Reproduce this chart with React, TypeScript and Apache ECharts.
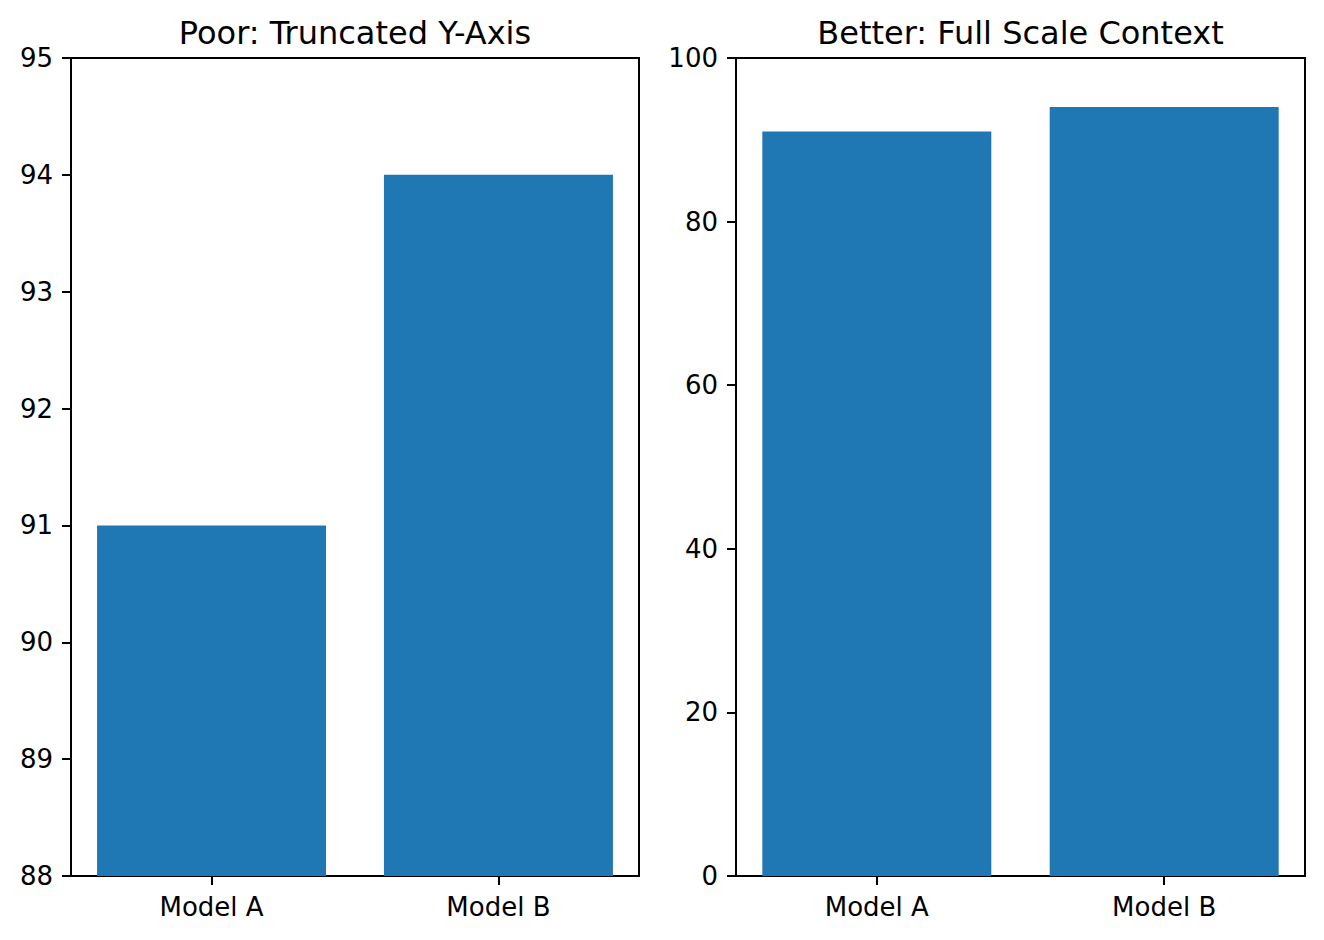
import React, { useEffect, useRef } from "react";
import * as echarts from "echarts";

const categories = ["Model A", "Model B"];
const accuracy = [91, 94];
const leftTitle = "Poor: Truncated Y-Axis";
const rightTitle = "Better: Full Scale Context";
const leftRange = [88, 95];
const leftStep = 1;
const rightRange = [0, 100];
const rightStep = 20;
const categoryPositions = [0, 1];

const FONT = "DejaVu Sans";
const BAR = "#1f77b4";

export default function App() {
  const ref = useRef<HTMLDivElement>(null);
  useEffect(() => {
    if (!ref.current) return;
    const chart = echarts.init(ref.current, null, { renderer: "svg" });
    const grids = [
      { left: 71, top: 58, width: 568, height: 818 },
      { left: 736, top: 58, width: 569, height: 818 },
    ].map((g) => ({
      ...g,
      show: true,
      borderColor: "#000",
      borderWidth: 2,
      backgroundColor: "transparent",
      containLabel: false,
    }));
    const xAxis = [0, 1].map((gi) => ({
      type: "value",
      gridIndex: gi,
      min: -0.49,
      max: 1.49,
      splitLine: { show: false },
      axisLine: { show: true, onZero: false, lineStyle: { color: "#000", width: 2 } },
      axisTick: {
        show: true,
        length: 9,
        customValues: categoryPositions,
        lineStyle: { color: "#000", width: 2 },
      },
      axisLabel: {
        customValues: categoryPositions,
        formatter: (v: number) => categories[Math.round(v)] ?? "",
        fontSize: 26,
        color: "#000",
        fontFamily: FONT,
        margin: 18,
      },
    }));
    const ranges = [
      [leftRange, leftStep],
      [rightRange, rightStep],
    ] as const;
    const yAxis = ranges.map(([r, step], gi) => ({
      type: "value",
      gridIndex: gi,
      min: r[0],
      max: r[1],
      interval: step,
      splitLine: { show: false },
      axisLine: { show: true, onZero: false, lineStyle: { color: "#000", width: 2 } },
      axisTick: { show: true, length: 9, lineStyle: { color: "#000", width: 2 } },
      axisLabel: { fontSize: 26, color: "#000", fontFamily: FONT, margin: 18 },
    }));
    const series = [0, 1].map((gi) => ({
      type: "bar",
      xAxisIndex: gi,
      yAxisIndex: gi,
      barWidth: 229,
      data: accuracy.map((v, i) => [categoryPositions[i], v]),
      itemStyle: { color: BAR },
      clip: true,
    }));
    chart.setOption({
      animation: false,
      backgroundColor: "#fff",
      grid: grids,
      xAxis,
      yAxis,
      series,
      graphic: [
        {
          type: "text",
          x: 355,
          y: 33,
          style: {
            text: leftTitle,
            fontSize: 32,
            fontFamily: FONT,
            fill: "#000",
            textAlign: "center",
            textVerticalAlign: "middle",
          },
        },
        {
          type: "text",
          x: 1020.5,
          y: 33,
          style: {
            text: rightTitle,
            fontSize: 32,
            fontFamily: FONT,
            fill: "#000",
            textAlign: "center",
            textVerticalAlign: "middle",
          },
        },
      ],
    } as any);
    return () => chart.dispose();
  }, []);
  return (
    <div
      ref={ref}
      style={{ position: "fixed", left: 0, top: 0, width: 1324, height: 940 }}
    />
  );
}
